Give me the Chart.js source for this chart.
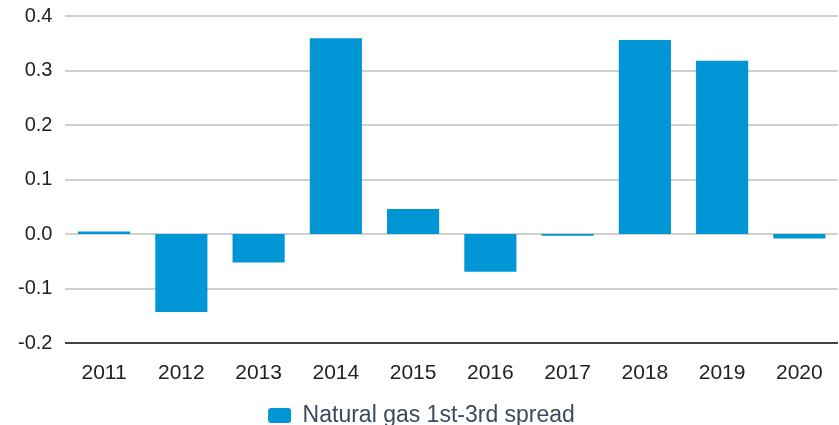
<!DOCTYPE html>
<html>
<head>
<meta charset="utf-8">
<script src="https://cdn.jsdelivr.net/npm/chart.js@4"></script>
<style>
  html, body { margin: 0; padding: 0; background: #fff; }
  #wrap { width: 839px; height: 425px; }
</style>
</head>
<body>
<div id="wrap"><canvas id="myChart" width="839" height="425"></canvas></div>
<script>
// data
const years = ['2011', '2012', '2013', '2014', '2015', '2016', '2017', '2018', '2019', '2020'];
const spread = [0.005, -0.143, -0.052, 0.359, 0.046, -0.069, -0.003, 0.356, 0.318, -0.008];
const seriesName = 'Natural gas 1st-3rd spread';

const barBlue = '#0096d6';

let ctx = document.getElementById('myChart');
let myChart = new Chart(ctx, {
    type: 'bar',
    data: {
        labels: years,
        datasets: [{
            label: seriesName,
            data: spread,
            backgroundColor: barBlue,
            borderWidth: 0,
            categoryPercentage: 1,
            barPercentage: 0.675
        }]
    },
    options: {
        responsive: false,
        animation: false,
        layout: { padding: { top: 0, right: 1, left: 5, bottom: -12 } },
        plugins: {
            legend: {
                position: 'bottom',
                labels: {
                    font: { family: 'Liberation Sans', size: 23 },
                    color: '#3c4a5c',
                    boxWidth: 23,
                    boxHeight: 15,
                    useBorderRadius: true,
                    borderRadius: 3,
                    padding: 0
                }
            },
            tooltip: { enabled: false }
        },
        scales: {
            x: {
                grid: { display: false, drawTicks: false },
                border: { display: false },
                ticks: {
                    font: { family: 'Liberation Sans', size: 21, lineHeight: 2.23 },
                    color: '#222',
                    padding: 7
                }
            },
            y: {
                min: -0.2,
                max: 0.4,
                grid: {
                    color: function(c) { return c.tick.value === -0.2 ? '#444' : '#d0d0d0'; },
                    lineWidth: 2,
                    drawTicks: false
                },
                border: { display: false },
                ticks: {
                    stepSize: 0.1,
                    font: { family: 'Liberation Sans', size: 20, lineHeight: 0.3 },
                    color: '#222',
                    padding: 13,
                    callback: function(v) { return v.toFixed(1); }
                }
            }
        }
    }
});
</script>
</body>
</html>
